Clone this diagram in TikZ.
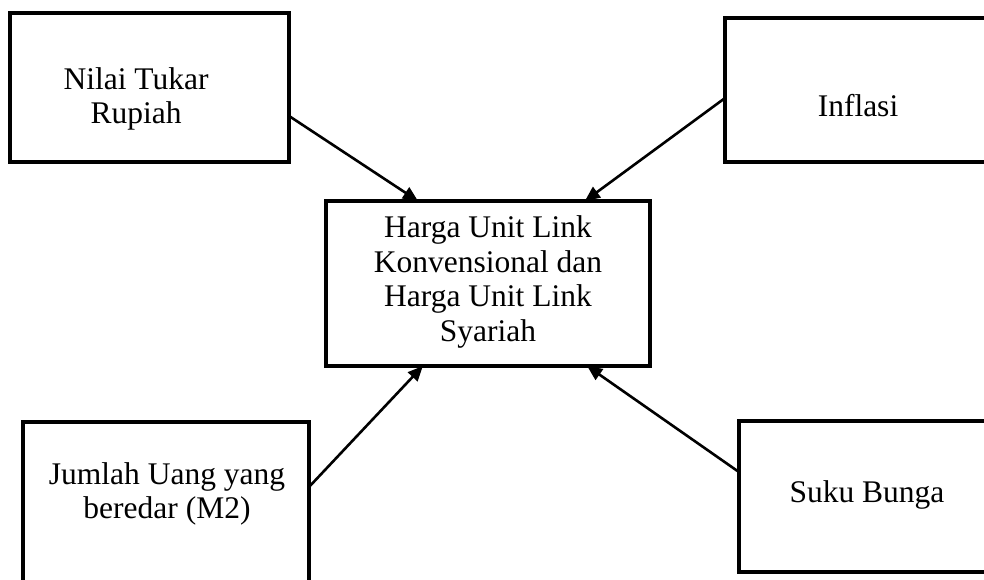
\documentclass[tikz,border=0pt]{standalone}
\usepackage{fontspec}
\setmainfont{Liberation Serif}
\usetikzlibrary{arrows.meta,calc}
\tikzset{
  boxnode/.style={draw=black, line width=3.2pt, rectangle, inner sep=0pt, outer sep=0pt, anchor=north west},
  txt/.style={align=center, inner sep=0pt, font=\fontsize{31.5}{34.5}\selectfont},
  conn/.style={line width=2.6pt, -{Triangle[length=15pt,width=13pt]}, shorten >=0pt}
}
\begin{document}
\begin{tikzpicture}[x=1pt,y=-1pt]
\useasboundingbox (0,0) rectangle (984,580);
\clip (0,0) rectangle (984,580);
\fill[white] (0,0) rectangle (984,580);
% boxes
\node[boxnode, minimum width=279pt, minimum height=149pt] (A) at (10,13) {};
\node[boxnode, minimum width=275pt, minimum height=144pt] (B) at (725,18) {};
\node[boxnode, minimum width=324pt, minimum height=165pt] (C) at (326,201) {};
\node[boxnode, minimum width=286pt, minimum height=178pt] (D) at (23,422) {};
\node[boxnode, minimum width=260pt, minimum height=151pt] (E) at (739,421) {};
% texts
\node[txt] (tA) at (136,99) {Nilai Tukar\\Rupiah};
\node[txt] (tB) at (858,106) {Inflasi};
\node[txt] (tC) at (488,282) {Harga Unit Link\\Konvensional dan\\Harga Unit Link\\Syariah};
\node[txt] (tD) at (167,494) {Jumlah Uang yang\\beredar (M2)};
\node[txt] (tE) at (867,495) {Suku Bunga};
% connectors
\draw[conn] ($(A.north east)!0.691!(A.south east)$) -- ($(C.north west)!0.284!(C.north east)$);
\draw[conn] ($(B.north west)!0.556!(B.south west)$) -- ($(C.north west)!0.799!(C.north east)$);
\draw[conn] ($(D.north east)!0.365!(D.south east)$) -- ($(C.south west)!0.299!(C.south east)$);
\draw[conn] ($(E.north west)!0.338!(E.south west)$) -- ($(C.south west)!0.806!(C.south east)$);
\end{tikzpicture}
\end{document}
